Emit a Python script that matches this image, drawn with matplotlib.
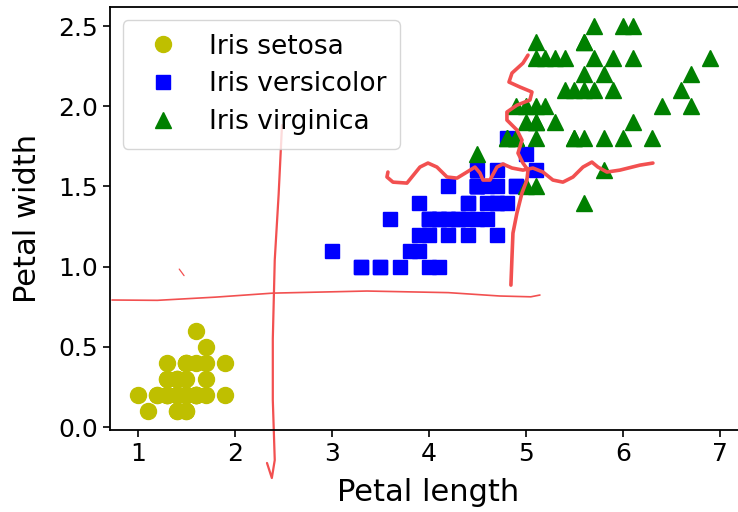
import numpy as np
import matplotlib
matplotlib.use("Agg")
import matplotlib.pyplot as plt

# Iris petal measurements (length, width)
setosa_len = [1.4,1.4,1.3,1.5,1.4,1.7,1.4,1.5,1.4,1.5,1.5,1.6,1.4,1.1,1.2,1.5,1.3,1.4,1.7,1.5,
              1.7,1.5,1.0,1.7,1.9,1.6,1.6,1.5,1.4,1.6,1.6,1.5,1.5,1.4,1.5,1.2,1.3,1.4,1.3,1.5,
              1.3,1.3,1.3,1.6,1.9,1.4,1.6,1.4,1.5,1.4]
setosa_wid = [0.2,0.2,0.2,0.2,0.2,0.4,0.3,0.2,0.2,0.1,0.2,0.2,0.1,0.1,0.2,0.4,0.4,0.3,0.3,0.3,
              0.2,0.4,0.2,0.5,0.2,0.2,0.4,0.2,0.2,0.2,0.2,0.4,0.1,0.2,0.2,0.2,0.2,0.1,0.2,0.2,
              0.3,0.3,0.2,0.6,0.4,0.3,0.2,0.2,0.2,0.2]
versicolor_len = [4.7,4.5,4.9,4.0,4.6,4.5,4.7,3.3,4.6,3.9,3.5,4.2,4.0,4.7,3.6,4.4,4.5,4.1,4.5,3.9,
                  4.8,4.0,4.9,4.7,4.3,4.4,4.8,5.0,4.5,3.5,3.8,3.7,3.9,5.1,4.5,4.5,4.7,4.4,4.1,4.0,
                  4.4,4.6,4.0,3.3,4.2,4.2,4.2,4.3,3.0,4.1]
versicolor_wid = [1.4,1.5,1.5,1.3,1.5,1.3,1.6,1.0,1.3,1.4,1.0,1.5,1.0,1.4,1.3,1.4,1.5,1.0,1.5,1.1,
                  1.8,1.3,1.5,1.2,1.3,1.4,1.4,1.7,1.5,1.0,1.1,1.0,1.2,1.6,1.5,1.6,1.5,1.3,1.3,1.3,
                  1.2,1.4,1.2,1.0,1.3,1.2,1.3,1.3,1.1,1.3]
virginica_len = [6.0,5.1,5.9,5.6,5.8,6.6,4.5,6.3,5.8,6.1,5.1,5.3,5.5,5.0,5.1,5.3,5.5,6.7,6.9,5.0,
                 5.7,4.9,6.7,4.9,5.7,6.0,4.8,4.9,5.6,5.8,6.1,6.4,5.6,5.1,5.6,6.1,5.6,5.5,4.8,5.4,
                 5.6,5.1,5.1,5.9,5.7,5.2,5.0,5.2,5.4,5.1]
virginica_wid = [2.5,1.9,2.1,1.8,2.2,2.1,1.7,1.8,1.8,2.5,2.0,1.9,2.1,2.0,2.4,2.3,1.8,2.2,2.3,1.5,
                 2.3,2.0,2.0,1.8,2.1,1.8,1.8,1.8,2.1,1.6,1.9,2.0,2.2,1.5,1.4,2.3,2.4,1.8,1.8,2.1,
                 2.4,2.3,1.9,2.3,2.5,2.3,1.9,2.0,2.3,1.8]

x_ticks = [1, 2, 3, 4, 5, 6, 7]
y_ticks = [0.0, 0.5, 1.0, 1.5, 2.0, 2.5]

# Hand-drawn red annotation strokes (data coordinates)
stroke1_x = [2.485, 2.45, 2.41, 2.39, 2.39, 2.41, 2.38, 2.33]
stroke1_y = [1.883, 1.45, 1.041, 0.55, 0.168, -0.206, -0.318, -0.224]
stroke2_x = [0.732, 1.2, 1.8, 2.392, 3.36, 4.2, 4.73, 5.05, 5.144]
stroke2_y = [0.792, 0.790, 0.810, 0.835, 0.848, 0.838, 0.817, 0.812, 0.823]
stroke_tick_x = [1.425, 1.475]
stroke_tick_y = [0.985, 0.944]
stroke3_x = [5.021, 4.969, 4.856, 4.825, 4.938, 5.062, 5.041, 4.907, 4.804, 4.804, 4.907,
             4.959, 4.918, 4.969, 5.021, 5.010, 4.959, 4.907, 4.866, 4.856, 4.845]
stroke3_y = [2.319, 2.269, 2.207, 2.151, 2.120, 2.089, 2.039, 2.007, 1.964, 1.914, 1.852,
             1.789, 1.708, 1.646, 1.602, 1.540, 1.459, 1.334, 1.209, 1.060, 0.885]
stroke4_x = [3.577, 3.567, 3.629, 3.773, 3.907, 3.990, 4.082, 4.186, 4.289, 4.392, 4.474,
             4.526, 4.557, 4.629, 4.701, 4.763, 4.856, 4.969, 5.072, 5.175, 5.278, 5.381,
             5.485, 5.588, 5.680, 5.742, 5.835, 5.969, 6.175, 6.309]
stroke4_y = [1.590, 1.559, 1.527, 1.521, 1.621, 1.646, 1.621, 1.559, 1.552, 1.590, 1.621,
             1.584, 1.540, 1.540, 1.621, 1.640, 1.615, 1.602, 1.615, 1.590, 1.540, 1.527,
             1.559, 1.621, 1.652, 1.621, 1.590, 1.602, 1.633, 1.646]

fig = plt.figure(figsize=(7.38, 5.12), dpi=100)
ax = fig.add_axes([0.149, 0.160, 0.862, 0.826])

ax.plot(setosa_len, setosa_wid, "o", color="y", markersize=11.5, label="Iris setosa")
ax.plot(versicolor_len, versicolor_wid, "s", color="b", markersize=10.5, label="Iris versicolor")
ax.plot(virginica_len, virginica_wid, "^", color="g", markersize=11.5, label="Iris virginica")

red = "#f25050"
kw = dict(color=red, solid_capstyle="round", solid_joinstyle="round", clip_on=False)
ax.plot(stroke1_x, stroke1_y, lw=1.6, **kw)
ax.plot(stroke2_x, stroke2_y, lw=1.2, **kw)
ax.plot(stroke_tick_x, stroke_tick_y, lw=0.9, **kw)
ax.plot(stroke3_x, stroke3_y, lw=2.6, **kw)
ax.plot(stroke4_x, stroke4_y, lw=2.6, **kw)

ax.set_xlim(0.711, 7.27)
ax.set_ylim(-0.019, 2.618)
ax.set_xticks(x_ticks)
ax.set_yticks(y_ticks)
ax.set_xticklabels([str(t) for t in x_ticks])
ax.set_yticklabels([f"{t:.1f}" for t in y_ticks])
ax.tick_params(labelsize=18, length=5, width=1.2)
for s in ax.spines.values():
    s.set_linewidth(1.3)
ax.set_xlabel("Petal length", fontsize=22, labelpad=9)
ax.set_ylabel("Petal width", fontsize=22, labelpad=12)
ax.legend(loc="upper left", fontsize=19, borderpad=0.5, handletextpad=0.75,
          labelspacing=0.45, handlelength=2.0, borderaxespad=0.5)

fig.savefig("out.png", dpi=100)
